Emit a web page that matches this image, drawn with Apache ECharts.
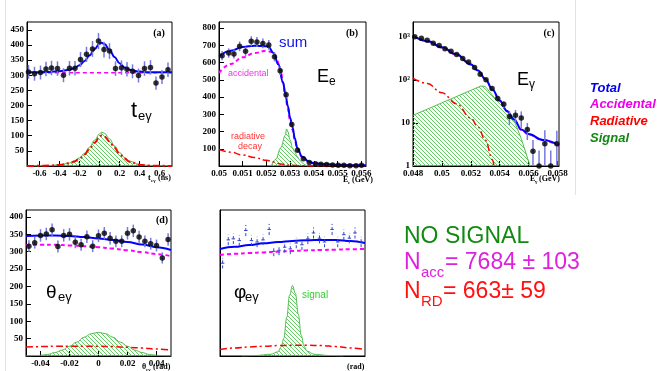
<!DOCTYPE html>
<html>
<head>
<meta charset="utf-8">
<script src="https://cdn.jsdelivr.net/npm/echarts@6/dist/echarts.min.js"></script>
<style>
html, body { margin: 0; padding: 0; background: #fff; }
#chart { width: 667px; height: 371px; }
</style>
</head>
<body>
<div id="chart"></div>
<script>
// ---------- panel (a): t_eγ ----------
const aBinX = [-0.71, -0.65, -0.59, -0.535, -0.48, -0.42, -0.36, -0.30, -0.245, -0.19, -0.13, -0.07, -0.01,
  0.045, 0.10, 0.16, 0.22, 0.275, 0.33, 0.39, 0.45, 0.51, 0.565, 0.625, 0.685];
const aCounts = [311, 305, 309, 321, 324, 322, 300, 323, 323, 352, 369, 387, 413, 385, 380, 322, 325, 320, 313, 299, 322, 326, 274, 294, 318];
const aErr = [23, 23, 23, 24, 24, 24, 23, 24, 24, 25, 25, 26, 27, 26, 26, 24, 24, 24, 23, 23, 24, 24, 22, 23, 24];
const aCurveX = [-0.725, -0.6, -0.5, -0.4, -0.3, -0.25, -0.2, -0.15, -0.1, -0.05, 0, 0.02, 0.05, 0.1, 0.15, 0.2, 0.25, 0.3, 0.4, 0.5, 0.6, 0.725];
const aTotal = [310, 310, 311, 313, 318, 324, 333, 347, 365, 386, 404, 407, 403, 384, 360, 340, 326, 318, 312, 310, 310, 310];
const aSignal = [0, 0.5, 1.5, 4, 10, 17, 27, 42, 62, 85, 106, 112, 108, 90, 67, 45, 28, 16, 5, 1.5, 0.5, 0];
const aRadiative = [0, 0.5, 1.3, 3.5, 9, 15, 24, 38, 56, 77, 95, 101, 97, 81, 60, 40, 25, 14, 4.5, 1.3, 0.5, 0];
const aAccX = [-0.725, 0.725];
const aAccidental = [308, 308];
const aTicksX = [-0.6, -0.4, -0.2, 0, 0.2, 0.4, 0.6];
const aTicksY = [50, 100, 150, 200, 250, 300, 350, 400, 450];

// ---------- panel (b): E_e ----------
const bBinX = [0.05013, 0.05041, 0.05063, 0.05087, 0.05112, 0.05136, 0.0516, 0.05185, 0.0521, 0.05234, 0.05258, 0.05283, 0.05307,
  0.05331, 0.05356, 0.05381, 0.05407, 0.0543, 0.05454, 0.05479, 0.05503, 0.05527, 0.05552, 0.05578, 0.05601];
const bCounts = [640, 655, 650, 694, 665, 723, 719, 711, 702, 634, 553, 413, 241, 91, 42, 21, 13, 10, 8, 6, 4, 4, 2, 2, 4];
const bErr = [27, 27, 27, 28, 27, 29, 29, 28, 28, 27, 25, 21, 17, 10, 7, 5, 4, 3, 3, 3, 2, 2, 2, 2, 2];
const bCurveX = [0.05, 0.0505, 0.051, 0.0515, 0.052, 0.0521, 0.0523, 0.0525, 0.0527, 0.0528, 0.0529, 0.053, 0.0531, 0.0532,
  0.0533, 0.0535, 0.0538, 0.054, 0.0545, 0.055, 0.0555, 0.056, 0.0562];
const bTotal = [635, 668, 690, 698, 695, 688, 655, 590, 485, 420, 350, 280, 225, 160, 105, 55, 25, 16, 10, 7, 5, 4, 4];
const bAccX = [0.05, 0.0505, 0.051, 0.0515, 0.052, 0.0522, 0.0524, 0.0526, 0.0527, 0.0528, 0.0529, 0.053, 0.0531, 0.0532,
  0.0533, 0.0535, 0.0538, 0.054, 0.0545, 0.055, 0.0556, 0.0562];
const bAccidental = [540, 592, 630, 655, 668, 662, 630, 560, 480, 405, 335, 265, 210, 150, 100, 52, 24, 15, 9, 6, 4, 3];
const bRadX = [0.05, 0.0505, 0.051, 0.0515, 0.052, 0.0523, 0.0526, 0.053, 0.0535, 0.054, 0.0562];
const bRadiative = [95, 80, 64, 49, 33, 23, 12, 4, 1, 0.3, 0];
const bSigX = [0.0522, 0.0524, 0.0526, 0.0528, 0.05285, 0.0529, 0.053, 0.0531, 0.0532, 0.0533, 0.0534, 0.0535, 0.0536, 0.0537, 0.05375];
const bSignal = [0, 40, 105, 180, 215, 200, 150, 105, 80, 55, 35, 20, 9, 2, 0];
const bTicksX = [0.05, 0.051, 0.052, 0.053, 0.054, 0.055, 0.056];
const bTicksY = [100, 200, 300, 400, 500, 600, 700, 800];

// ---------- panel (c): E_γ (log) ----------
const cBinX = [0.04812, 0.04858, 0.04898, 0.0494, 0.04981, 0.05021, 0.05063, 0.05102, 0.05144, 0.05184, 0.05226, 0.05265, 0.05305,
  0.05347, 0.05386, 0.05428, 0.05467, 0.05509, 0.05549, 0.05591, 0.0563, 0.05672, 0.05712, 0.05753, 0.05795];
const cCounts = [1000, 917, 827, 707, 627, 527, 459, 386, 314, 259, 193, 134, 100, 63, 37, 27, 14, 15, 13, 7, 2.2, 1, 3.3, 1, 3.3];
const cErr = [35, 32, 30, 28, 26, 24, 22, 20, 18, 16, 14, 12, 10, 8, 6, 5, 5, 5, 5.5, 3, 1.8, 1.3, 3.5, 1.3, 3.3];
const cCurveX = [0.048, 0.049, 0.05, 0.051, 0.052, 0.0525, 0.053, 0.0535, 0.054, 0.0545, 0.055, 0.0555, 0.056, 0.057, 0.0581];
const cTotal = [1050, 800, 570, 390, 230, 165, 105, 60, 33, 19, 12, 7, 5.5, 4, 3];
const cAccidental = [1020, 776, 553, 378, 223, 160, 102, 58, 32, 18.4, 11.6, 6.8, 5.3, 3.9, 2.9];
const cRadX = [0.048, 0.049, 0.05, 0.051, 0.052, 0.0525, 0.053, 0.0535, 0.0536];
const cRadiative = [110, 82, 50, 28, 13, 8, 4, 1.4, 1];
const cSigX = [0.048, 0.0527, 0.053, 0.0539, 0.0549, 0.0555, 0.0561];
const cSignal = [15, 72, 70, 30, 14, 4.2, 1];
const cTicksX = [0.048, 0.05, 0.052, 0.054, 0.056, 0.058];
const cTicksY = [1, 10, 100, 1000];
const cTickLabels = ['1', '10', '10²', '10³'];

// ---------- panel (d): θ_eγ ----------
const dBinX = [-0.048, -0.044, -0.04, -0.036, -0.032, -0.028, -0.024, -0.02, -0.016, -0.012, -0.008, -0.004, 0,
  0.004, 0.008, 0.012, 0.016, 0.02, 0.024, 0.028, 0.032, 0.036, 0.04, 0.044, 0.048];
const dCounts = [316, 326, 347, 351, 363, 315, 347, 350, 327, 320, 343, 316, 346, 353, 339, 330, 330, 353, 360, 342, 330, 323, 318, 282, 335];
const dErr = [17, 17, 18, 18, 18, 17, 18, 18, 17, 17, 18, 17, 18, 18, 18, 17, 17, 18, 18, 18, 17, 17, 17, 16, 18];
const dCurveX = [-0.05, -0.04, -0.03, -0.02, -0.01, 0, 0.01, 0.02, 0.03, 0.04, 0.05];
const dTotal = [345, 347, 347, 345, 342, 338, 334, 328, 321, 313, 305];
const dAccidental = [319, 320, 320, 318, 316, 313, 309, 304, 299, 293, 287];
const dRadiative = [26, 27, 28, 28, 28, 28, 27, 25, 23, 20, 17];
const dSigX = [-0.05, -0.045, -0.04, -0.035, -0.03, -0.025, -0.02, -0.015, -0.01, -0.005, 0,
  0.005, 0.01, 0.015, 0.02, 0.025, 0.03, 0.035, 0.04, 0.045, 0.05];
const dSignal = [0.3, 0.8, 2, 4.5, 10, 17, 28, 40, 54, 64, 68, 64, 54, 40, 28, 17, 10, 4.5, 2, 0.8, 0.3];
const dTicksX = [-0.04, -0.02, 0, 0.02, 0.04];
const dTicksY = [50, 100, 150, 200, 250, 300, 350, 400];

// ---------- panel (e): φ_eγ ----------
const eBinX = [-0.0482, -0.0443, -0.0408, -0.0367, -0.0322, -0.0283, -0.0244, -0.0203, -0.0161, -0.0129, -0.0093, -0.0054, -0.0015,
  0.0026, 0.0065, 0.0106, 0.0145, 0.0186, 0.0221, 0.0273, 0.0312, 0.0354, 0.0392, 0.0431, 0.0473];
const eCounts = [267, 334, 337, 332, 361, 332, 328, 334, 364, 301, 304, 313, 308, 325, 320, 337, 354, 339, 328, 364, 328, 349, 339, 354, 328];
const eErr = [15, 15, 15, 15, 16, 15, 15, 15, 16, 14, 14, 15, 15, 15, 15, 15, 16, 15, 15, 16, 15, 15, 15, 16, 15];
const eCurveX = [-0.05, -0.04, -0.03, -0.02, -0.01, 0, 0.01, 0.02, 0.03, 0.04, 0.05];
const eTotal = [308, 314, 319, 324, 328, 331, 333, 334, 334, 331, 325];
const eAccidental = [291, 294, 296, 298, 300, 302, 304, 305, 306, 307, 308];
const eRadiative = [19, 23, 26, 28, 30, 31, 31, 30, 27, 23, 19];
const eSigX = [-0.035, -0.025, -0.015, -0.01, -0.008, -0.006, -0.004, -0.002, 0, 0.002, 0.004, 0.006, 0.008, 0.01, 0.015, 0.025, 0.035];
const eSignal = [0, 1.5, 5, 12, 25, 50, 110, 175, 203, 180, 120, 60, 28, 14, 5, 1.5, 0];

// colours
const BLUE = '#0000ff', MAGENTA = '#ff00ff', RED = '#ff0000', GREEN = '#55bb55', ERRC = '#7878e0';

// hatched fill for signal
const hatch = document.createElement('canvas');
hatch.width = 4; hatch.height = 4;
const hctx = hatch.getContext('2d');
hctx.strokeStyle = '#66cc66';
hctx.lineWidth = 1;
hctx.beginPath();
hctx.moveTo(0, 0); hctx.lineTo(4, 4);
hctx.moveTo(-1, 3); hctx.lineTo(1, 5);
hctx.moveTo(3, -1); hctx.lineTo(5, 1);
hctx.stroke();

const zip = (xs, ys) => xs.map((x, i) => [x, ys[i]]);
const fmtNum = v => String(+v.toFixed(4));
const serif = { fontFamily: 'Liberation Serif', fontWeight: 'bold', fontSize: 9, color: '#000' };

function axis(grid, min, max, ticks, show, extra) {
  return Object.assign({
    type: 'value', gridIndex: grid, min, max,
    axisLine: { show: true, onZero: false, lineStyle: { color: '#000', width: 1 } },
    axisTick: { show: show, inside: true, length: 5, customValues: ticks, lineStyle: { color: '#000' } },
    axisLabel: Object.assign({ show: show, customValues: ticks, formatter: fmtNum, margin: 3 }, serif),
    splitLine: { show: false }
  }, extra || {});
}

function curve(i, data, color, type, width, z) {
  return {
    type: 'line', xAxisIndex: i, yAxisIndex: i, data, symbol: 'none',
    smooth: 0.4, smoothMonotone: 'x', silent: true, z,
    lineStyle: { color, width, type }
  };
}

function signalArea(i, data, smooth) {
  return {
    type: 'line', xAxisIndex: i, yAxisIndex: i, data, symbol: 'none',
    smooth: smooth ? 0.4 : false, smoothMonotone: 'x', silent: true, z: 1,
    lineStyle: { color: GREEN, width: 1 },
    areaStyle: { origin: 'start', opacity: 1, color: { image: hatch, repeat: 'repeat' } }
  };
}

function errorBars(i, xs, ys, es, floor, cross) {
  return {
    type: 'custom', xAxisIndex: i, yAxisIndex: i, silent: true, z: 5, clip: true,
    data: xs.map((x, k) => [x, ys[k], es[k]]),
    renderItem: (params, api) => {
      const x = api.value(0), y = api.value(1), e = api.value(2);
      const lo = api.coord([x, Math.max(y - e, floor)]);
      const hi = api.coord([x, y + e]);
      const style = { stroke: cross ? '#3344cc' : ERRC, lineWidth: cross ? 1 : 1.5, lineDash: cross ? [3, 2] : null };
      const children = [{ type: 'line', shape: { x1: lo[0], y1: lo[1], x2: hi[0], y2: hi[1] }, style }];
      if (cross) {
        const l = api.coord([x - 0.0012, y]), r = api.coord([x + 0.0012, y]);
        children.push({ type: 'line', shape: { x1: l[0], y1: l[1], x2: r[0], y2: r[1] }, style: { stroke: '#3344cc', lineWidth: 1 } });
      }
      return { type: 'group', children };
    }
  };
}

function dots(i, xs, ys) {
  return {
    type: 'scatter', xAxisIndex: i, yAxisIndex: i, data: zip(xs, ys),
    symbol: 'circle', symbolSize: 5.5, itemStyle: { color: '#000' }, silent: true, z: 6
  };
}

function txt(x, y, text, font, fill, align) {
  return { type: 'text', x, y, silent: true, style: { text, font, fill, align: align || 'left', verticalAlign: 'middle' } };
}

const sans = '"Liberation Sans", Arial, sans-serif';
const tf = 'bold 8px "Liberation Serif"', sf = 'bold 5px "Liberation Serif"';
const graphics = [
  { type: 'line', silent: true, shape: { x1: 5.5, y1: 0, x2: 5.5, y2: 371 }, style: { stroke: '#e2e2e2', lineWidth: 1 } },
  { type: 'line', silent: true, shape: { x1: 575.5, y1: 0, x2: 575.5, y2: 195 }, style: { stroke: '#e2e2e2', lineWidth: 1 } },
  // panel labels
  txt(159, 33, '(a)', 'bold 10px "Liberation Serif"', '#000', 'center'),
  txt(352, 33, '(b)', 'bold 10px "Liberation Serif"', '#000', 'center'),
  txt(549, 33, '(c)', 'bold 10px "Liberation Serif"', '#000', 'center'),
  txt(162, 220, '(d)', 'bold 10px "Liberation Serif"', '#000', 'center'),
  // axis titles
  txt(148, 178, 't', tf, '#000'), txt(151, 181, 'eγ', sf, '#000'), txt(158, 178, '(ns)', tf, '#000'),
  txt(343, 180, 'E', tf, '#000'), txt(348, 183, 'e', sf, '#000'), txt(352, 180, '(GeV)', tf, '#000'),
  txt(530, 179, 'E', tf, '#000'), txt(535, 182, 'γ', sf, '#000'), txt(539, 179, '(GeV)', tf, '#000'),
  txt(142, 367, 'θ', tf, '#000'), txt(146, 370, 'eγ', sf, '#000'), txt(153, 367, '(rad)', tf, '#000'),
  txt(347, 367, '(rad)', tf, '#000'),
  // in-panel variable names
  txt(131, 111, 't', '22px ' + sans, '#000'),
  txt(138, 116, 'eγ', '13px ' + sans, '#000'),
  txt(317, 77, 'E', '18px ' + sans, '#000'),
  txt(329, 82, 'e', '12px ' + sans, '#000'),
  txt(517, 80, 'E', '18px ' + sans, '#000'),
  txt(529, 85, 'γ', '12px ' + sans, '#000'),
  txt(46, 293, 'θ', '19px ' + sans, '#000'),
  txt(58, 297, 'eγ', '13px ' + sans, '#000'),
  txt(234, 293, 'φ', '19px ' + sans, '#000'),
  txt(245, 297, 'eγ', '13px ' + sans, '#000'),
  txt(279, 43, 'sum', '15px ' + sans, '#1010ee'),
  txt(228, 74, 'accidental', '9px ' + sans, '#ee33ee'),
  txt(248, 137, 'radiative', '9px ' + sans, '#ff3333', 'center'),
  txt(250, 147, 'decay', '9px ' + sans, '#ff3333', 'center'),
  txt(302, 295, 'signal', '10px ' + sans, '#33cc33'),
  // legend
  txt(590, 88, 'Total', 'italic bold 13px ' + sans, '#0000ee'),
  txt(590, 104, 'Accidental', 'italic bold 13px ' + sans, '#ee00ee'),
  txt(590, 121, 'Radiative', 'italic bold 13px ' + sans, '#ff0000'),
  txt(590, 138, 'Signal', 'italic bold 13px ' + sans, '#118811'),
  // result block
  txt(404, 237, 'NO SIGNAL', '23px ' + sans, '#128a12'),
  txt(404, 263, 'N', '23px ' + sans, '#dd22dd'),
  txt(421, 273, 'acc', '15px ' + sans, '#dd22dd'),
  txt(445, 263, '= 7684 ± 103', '23px ' + sans, '#dd22dd'),
  txt(404, 292, 'N', '23px ' + sans, '#ff1111'),
  txt(421, 302, 'RD', '15px ' + sans, '#ff1111'),
  txt(443, 292, '= 663± 59', '23px ' + sans, '#ff1111')
];

const option = {
  animation: false,
  backgroundColor: '#fff',
  grid: [
    { left: 27, top: 22, width: 145, height: 144 },
    { left: 219, top: 22, width: 147, height: 144 },
    { left: 413, top: 22, width: 146, height: 144 },
    { left: 26, top: 210, width: 145, height: 146 },
    { left: 220, top: 210, width: 145, height: 146 }
  ].map(g => Object.assign({ show: true, borderColor: '#000', borderWidth: 1, backgroundColor: 'transparent' }, g)),
  xAxis: [
    axis(0, -0.725, 0.725, aTicksX, true),
    axis(1, 0.05, 0.0562, bTicksX, true),
    axis(2, 0.048, 0.0581, cTicksX, true),
    axis(3, -0.05, 0.05, dTicksX, true),
    axis(4, -0.05, 0.05, [], false)
  ],
  yAxis: [
    axis(0, 0, 476, aTicksY, true),
    axis(1, 0, 835, bTicksY, true),
    axis(2, 1, 2200, cTicksY, true, {
      type: 'log', logBase: 10,
      axisLabel: Object.assign({ customValues: cTicksY, margin: 3, formatter: v => cTickLabels[cTicksY.indexOf(Math.round(v))] || '' }, serif)
    }),
    axis(3, 0, 420, dTicksY, true),
    axis(4, 0, 420, [], false)
  ],
  series: [
    // (a)
    signalArea(0, zip(aCurveX, aSignal), true),
    curve(0, zip(aCurveX, aRadiative), RED, [7, 3, 2, 3], 2, 2),
    curve(0, zip(aAccX, aAccidental), MAGENTA, [4, 3], 1.5, 3),
    curve(0, zip(aCurveX, aTotal), BLUE, 'solid', 2, 4),
    errorBars(0, aBinX, aCounts, aErr, 0, false),
    dots(0, aBinX, aCounts),
    // (b)
    signalArea(1, zip(bSigX, bSignal), true),
    curve(1, zip(bRadX, bRadiative), RED, [7, 3, 2, 3], 1.5, 2),
    curve(1, zip(bAccX, bAccidental), MAGENTA, [4, 3], 2, 3),
    curve(1, zip(bCurveX, bTotal), BLUE, 'solid', 2, 4),
    errorBars(1, bBinX, bCounts, bErr, 0, false),
    dots(1, bBinX, bCounts),
    // (c)
    signalArea(2, zip(cSigX, cSignal), false),
    curve(2, zip(cRadX, cRadiative), RED, [7, 3, 2, 3], 1.5, 2),
    curve(2, zip(cCurveX, cAccidental), MAGENTA, [4, 3], 1.5, 3),
    curve(2, zip(cCurveX, cTotal), BLUE, 'solid', 2, 4),
    errorBars(2, cBinX, cCounts, cErr, 1, false),
    dots(2, cBinX, cCounts),
    // (d)
    signalArea(3, zip(dSigX, dSignal), true),
    curve(3, zip(dCurveX, dRadiative), RED, [7, 3, 2, 3], 1.5, 2),
    curve(3, zip(dCurveX, dAccidental), MAGENTA, [4, 3], 2, 3),
    curve(3, zip(dCurveX, dTotal), BLUE, 'solid', 2, 4),
    errorBars(3, dBinX, dCounts, dErr, 0, false),
    dots(3, dBinX, dCounts),
    // (e)
    signalArea(4, zip(eSigX, eSignal), true),
    curve(4, zip(eCurveX, eRadiative), RED, [7, 3, 2, 3], 1.5, 2),
    curve(4, zip(eCurveX, eAccidental), MAGENTA, [4, 3], 2, 3),
    curve(4, zip(eCurveX, eTotal), BLUE, 'solid', 2, 4),
    errorBars(4, eBinX, eCounts, eErr, 0, true)
  ],
  graphic: graphics
};

const chart = echarts.init(document.getElementById('chart'));
chart.setOption(option);
window.addEventListener('resize', () => chart.resize());
</script>
</body>
</html>
